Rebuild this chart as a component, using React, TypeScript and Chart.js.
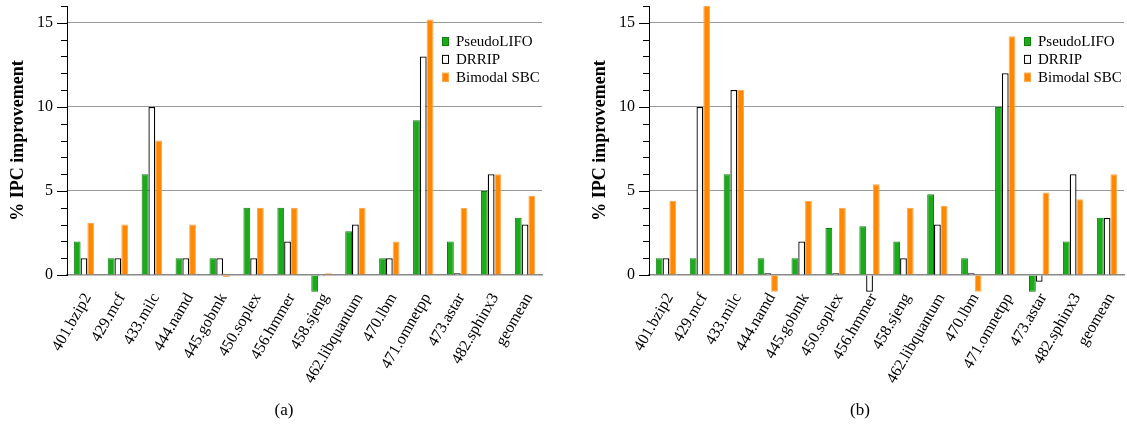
import React, { useEffect, useRef } from 'react';
import { Chart, registerables } from 'chart.js';
Chart.register(...registerables);

const categories = ['401.bzip2', '429.mcf', '433.milc', '444.namd', '445.gobmk', '450.soplex', '456.hmmer', '458.sjeng', '462.libquantum', '470.lbm', '471.omnetpp', '473.astar', '482.sphinx3', 'geomean'];
const seriesNames = ['PseudoLIFO', 'DRRIP', 'Bimodal SBC'];

const pseudoLifoA = [2, 1, 6, 1, 1, 4, 4, -1, 2.6, 1, 9.2, 2, 5, 3.4];
const drripA = [1, 1, 10, 1, 1, 1, 2, -0.08, 3, 1, 13, 0.1, 6, 3];
const bimodalA = [3.1, 3, 8, 3, -0.12, 4, 4, 0.1, 4, 2, 15.2, 4, 6, 4.7];

const pseudoLifoB = [1, 1, 6, 1, 1, 2.8, 2.9, 2, 4.8, 1, 10, -1, 2, 3.4];
const drripB = [1, 10, 11, 0.1, 2, 0.1, -1, 1, 3, 0.1, 12, -0.4, 6, 3.4];
const bimodalB = [4.4, 16, 11, -1, 4.4, 4, 5.4, 4, 4.1, -1, 14.2, 4.9, 4.5, 6];

const yTickLabels = [0, 5, 10, 15];
const yMin = 0;
const yMax = 16;
const yStep = 1;
const yTitle = '% IPC improvement';

const FONT = '"Liberation Serif", "Times New Roman", serif';

const fills = ['#1aaa1a', '#ffffff', '#ff8800'];
const borders = ['#0e800e', '#000000', '#ffa850'];

const tickMarkPlugin = {
  id: 'tickMarks',
  afterDraw(chart: any) {
    const { ctx, chartArea } = chart;
    const ys = chart.scales.y;
    ctx.save();
    ctx.strokeStyle = '#000000';
    ctx.lineWidth = 1;
    ctx.setLineDash([]);
    for (let v = yMin; v <= yMax; v += yStep) {
      const py = Math.round(ys.getPixelForValue(v)) + 0.5;
      const len = yTickLabels.includes(v) ? 10 : 6;
      ctx.beginPath();
      ctx.moveTo(chartArea.left - len, py);
      ctx.lineTo(chartArea.left + 0.5, py);
      ctx.stroke();
    }
    ctx.restore();
  },
};

const legendPlugin = {
  id: 'boxLegend',
  afterDraw(chart: any) {
    const { ctx, chartArea } = chart;
    ctx.save();
    ctx.font = '15px ' + FONT;
    ctx.textBaseline = 'middle';
    ctx.textAlign = 'left';
    chart.data.datasets.forEach((ds: any, i: number) => {
      const y = chartArea.top + 35.5 + i * 17.9;
      const x = chartArea.right - 100;
      ctx.fillStyle = ds.backgroundColor;
      ctx.fillRect(x, y - 4.5, 7, 9);
      ctx.strokeStyle = ds.borderColor;
      ctx.lineWidth = 1;
      ctx.strokeRect(x + 0.5, y - 4, 6, 8);
      ctx.fillStyle = '#000';
      ctx.fillText(ds.label, x + 14, y + 1);
    });
    ctx.restore();
  },
};

function BarChart({ series, left }: { series: number[][]; left: number }) {
  const ref = useRef<HTMLCanvasElement>(null);
  useEffect(() => {
    const chart = new Chart(ref.current!, {
      type: 'bar',
      data: {
        labels: categories,
        datasets: series.map((vals, i) => ({
          label: seriesNames[i],
          data: vals,
          backgroundColor: fills[i],
          borderColor: borders[i],
          borderWidth: i === 1 ? 1.3 : 1,
          clip: false as any,
          categoryPercentage: 0.6,
          barPercentage: 1.0,
        })),
      },
      options: {
        responsive: false,
        animation: false,
        layout: { padding: { top: 6, right: 3, left: 0, bottom: 0 } },
        plugins: { legend: { display: false }, tooltip: { enabled: false } },
        scales: {
          x: {
            grid: { display: false },
            border: { color: '#888', width: 1.5 },
            ticks: {
              font: { family: FONT, size: 16 },
              color: '#000',
              minRotation: 60,
              maxRotation: 60,
              autoSkip: false,
              padding: 7,
              labelOffset: 4,
            },
            afterFit: (s: any) => {
              s.height = 150;
              s.paddingLeft = 0;
              s.paddingRight = 0;
            },
          },
          y: {
            min: yMin,
            max: yMax,
            grid: {
              color: (c: any) => (c.tick && c.tick.value > 0 && yTickLabels.includes(c.tick.value) ? '#999' : 'rgba(0,0,0,0)'),
              tickColor: 'rgba(0,0,0,0)',
              tickLength: 10,
              lineWidth: 1,
            },
            border: { color: '#000', width: 1 },
            ticks: {
              stepSize: yStep,
              maxTicksLimit: 100,
              autoSkip: false,
              font: { family: FONT, size: 16 },
              color: '#000',
              padding: 4,
              callback: (v: any) => (yTickLabels.includes(Number(v)) ? String(v) : ' '),
            },
            title: {
              display: true,
              text: yTitle,
              font: { family: FONT, size: 18, weight: 'bold' },
              color: '#000',
              padding: { top: 8, bottom: 0 },
            },
            afterFit: (s: any) => {
              s.width = 67;
              s.paddingTop = 0;
              s.paddingBottom = 0;
            },
          },
        },
      },
      plugins: [tickMarkPlugin, legendPlugin],
    } as any);
    return () => chart.destroy();
  }, []);
  return (
    <canvas
      ref={ref}
      width={545}
      height={425}
      style={{ position: 'absolute', left, top: 0, width: 545, height: 425 }}
    />
  );
}

export default function App() {
  const captionStyle: React.CSSProperties = {
    position: 'absolute',
    top: 400,
    width: 60,
    textAlign: 'center',
    fontFamily: FONT,
    fontSize: 17,
    lineHeight: '20px',
    color: '#000',
  };
  return (
    <div style={{ position: 'absolute', left: 0, top: 0, width: 1127, height: 425, background: '#fff', overflow: 'hidden' }}>
      <BarChart series={[pseudoLifoA, drripA, bimodalA]} left={0} />
      <BarChart series={[pseudoLifoB, drripB, bimodalB]} left={582} />
      <div style={{ ...captionStyle, left: 284 - 30 }}>(a)</div>
      <div style={{ ...captionStyle, left: 860 - 30 }}>(b)</div>
    </div>
  );
}
